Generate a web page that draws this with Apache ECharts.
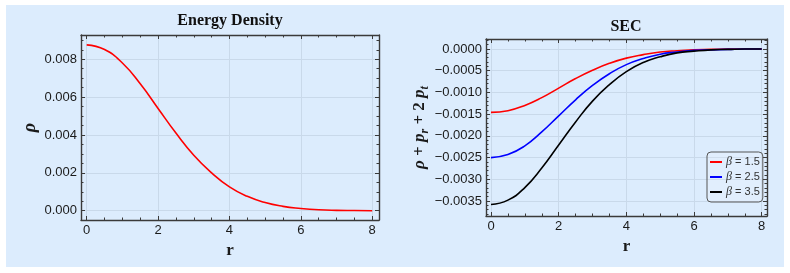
<!DOCTYPE html>
<html><head><meta charset="utf-8">
<script src="https://cdn.jsdelivr.net/npm/echarts@6/dist/echarts.min.js"></script>
<style>
html,body{margin:0;padding:0;background:#fff;}
#wrap{position:relative;width:790px;height:273px;}
#bg{position:absolute;left:6px;top:5px;width:778px;height:262px;background:#dcecfd;}
#c{position:absolute;left:0;top:0;width:790px;height:273px;}
</style></head><body>
<div id="wrap"><div id="bg"></div><div id="c"></div></div>
<script>
// ---- data ----
const r = [0,0.5,1,1.5,2,2.5,3,3.5,4,4.5,5,5.5,6,6.5,7,7.5,8];
const rho = [0.00876,0.00851,0.00780,0.00670,0.00540,0.00410,0.00293,0.00200,0.00126,0.00076,0.00043,0.00023,0.00012,0.00005,0.00002,0.00001,0.00000];
const secBeta15 = [-0.00146,-0.00142,-0.00130,-0.00112,-0.00090,-0.00068,-0.00049,-0.00033,-0.00021,-0.00013,-0.00007,-0.00004,-0.00002,-0.00001,0,0,0];
const secBeta25 = [-0.00250,-0.00243,-0.00223,-0.00191,-0.00154,-0.00117,-0.00084,-0.00057,-0.00036,-0.00022,-0.00012,-0.00007,-0.00003,-0.00002,-0.00001,0,0];
const secBeta35 = [-0.00358,-0.00348,-0.00319,-0.00274,-0.00221,-0.00168,-0.00120,-0.00082,-0.00052,-0.00031,-0.00018,-0.00009,-0.00005,-0.00002,-0.00001,0,0];
const betaNames = ['β = 1.5','β = 2.5','β = 3.5'];
const xTicks = [0,2,4,6,8];
const rhoTicks = [0,0.002,0.004,0.006,0.008];
const secTicks = [0,-0.0005,-0.001,-0.0015,-0.002,-0.0025,-0.003,-0.0035];
const titles = ['Energy Density','SEC'];

// ---- styling / layout ----
const FRAME = '#3a3a3a';
const GRIDC = '#c9d9ea';
const LABELFONT = 'Liberation Sans';
const SERIF = 'Liberation Serif';

function minorList(from, to, step, majors){
  const out=[];
  for(let i=0;;i++){const v=+(from+i*step).toFixed(6); if(v>to+1e-9)break;
    if(!majors.some(m=>Math.abs(m-v)<step/10)) out.push(v);}
  return out;
}
function makeAxes(kind, gi, min, max, majors, minors, fmt, nameOpt){
  const pos = kind==='x' ? ['bottom','top'] : ['left','right'];
  const axes=[];
  pos.forEach((p,k)=>{
    axes.push(Object.assign({
      type:'value', gridIndex:gi, position:p, min:min, max:max,
      axisLine:{show:true,onZero:false,lineStyle:{color:FRAME,width:1.4}},
      axisTick:{show:true,inside:true,length:4,customValues:majors,lineStyle:{color:FRAME,width:1}},
      axisLabel:{show:k===0,customValues:majors,formatter:fmt,color:'#1a1a1a',fontFamily:LABELFONT,fontSize:13,margin:4},
      splitLine:{show:k===0,lineStyle:{color:GRIDC,width:1}}
    }, k===0?nameOpt:{}));
    axes.push({
      type:'value', gridIndex:gi, position:p, min:min, max:max,
      axisLine:{show:false,onZero:false},
      axisTick:{show:true,inside:true,length:2.5,customValues:minors,lineStyle:{color:FRAME,width:1}},
      axisLabel:{show:false},
      splitLine:{show:false}
    });
  });
  return axes;
}
const xName = {name:'r',nameLocation:'middle',nameGap:21,
  nameTextStyle:{fontFamily:SERIF,fontWeight:'bold',fontSize:17,color:'#1a1a1a'}};
const xFmt = v=>String(v);
const xMinor = minorList(0,8,0.5,xTicks);

const xAxis = [].concat(
  makeAxes('x',0,-0.16,8.19,xTicks,xMinor,xFmt,xName),
  makeAxes('x',1,-0.148,8.157,xTicks,xMinor,xFmt,xName)
);
const yAxis = [].concat(
  makeAxes('y',0,-0.00049,0.00928,rhoTicks,minorList(0,0.009,0.0005,rhoTicks),v=>v.toFixed(3),
    {name:'ρ',nameLocation:'middle',nameGap:42,
     nameTextStyle:{fontFamily:SERIF,fontWeight:'bold',fontStyle:'italic',fontSize:18,color:'#1a1a1a'}}),
  makeAxes('y',1,-0.003845,0.00023,secTicks,minorList(-0.0038,0.0002,0.0001,secTicks),
    v=>(Math.abs(v)<1e-12?'0.0000':'\u2212'+Math.abs(v).toFixed(4)),
    {name:'{a|ρ} {b|+} {a|p}{s|r} {b|+} {b|2} {a|p}{s|t}',nameLocation:'middle',nameGap:56,
     nameTextStyle:{fontFamily:SERIF,fontWeight:'bold',fontSize:17,color:'#1a1a1a',
       rich:{
         a:{fontFamily:SERIF,fontWeight:'bold',fontStyle:'italic',fontSize:17,color:'#1a1a1a',lineHeight:20,verticalAlign:'middle'},
         b:{fontFamily:SERIF,fontWeight:'bold',fontSize:17,color:'#1a1a1a',lineHeight:20,verticalAlign:'middle'},
         s:{fontFamily:SERIF,fontWeight:'bold',fontStyle:'italic',fontSize:12,color:'#1a1a1a',lineHeight:12,verticalAlign:'top',padding:[9,0,0,0]}
       }}})
);

function pairs(ys){return r.map((x,i)=>[x,ys[i]]);}
function lineSeries(name, ys, color, xi, yi){
  return {name:name,type:'line',xAxisIndex:xi,yAxisIndex:yi,data:pairs(ys),
    showSymbol:false,symbol:'none',smooth:0.5,
    lineStyle:{color:color,width:1.6},itemStyle:{color:color},animation:false,z:5};
}

const option = {
  animation:false,
  title:[
    {text:titles[0],left:230,top:13,textAlign:'center',padding:0,
     textStyle:{fontFamily:SERIF,fontWeight:'bold',fontSize:16,color:'#111'}},
    {text:titles[1],left:626,top:19,textAlign:'center',padding:0,
     textStyle:{fontFamily:SERIF,fontWeight:'bold',fontSize:16,color:'#111'}}
  ],
  grid:[
    {left:81,top:35,width:298,height:185,containLabel:false},
    {left:486,top:39,width:281,height:177,containLabel:false}
  ],
  xAxis:xAxis, yAxis:yAxis,
  legend:{
    data:betaNames, orient:'vertical', left:707, top:152,
    icon:'rect', itemWidth:12, itemHeight:2, itemGap:3,
    padding:[4,3,4,3], borderColor:'#555', borderWidth:1, borderRadius:4,
    backgroundColor:'rgba(255,255,255,0.15)',
    formatter:n=>'{it|β}'+n.slice(1),
    textStyle:{fontFamily:LABELFONT,fontSize:11,color:'#333',padding:[0,0,0,-1],
      rich:{it:{fontFamily:SERIF,fontStyle:'italic',fontSize:12,color:'#333'}}}
  },
  series:[
    lineSeries('rho',rho,'#ff0000',0,0),
    lineSeries(betaNames[0],secBeta15,'#ff0000',4,4),
    lineSeries(betaNames[1],secBeta25,'#0000ff',4,4),
    lineSeries(betaNames[2],secBeta35,'#000000',4,4)
  ]
};
const chart = echarts.init(document.getElementById('c'),null,{renderer:'canvas'});
chart.setOption(option);
</script>
</body></html>
